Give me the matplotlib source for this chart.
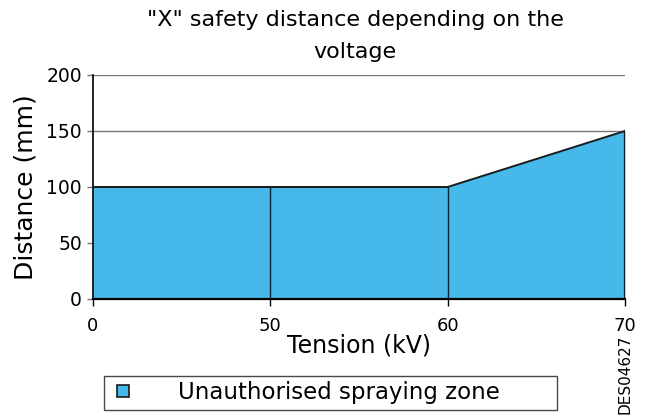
import matplotlib.pyplot as plt
from matplotlib.lines import Line2D

# chart data
tension_labels = ["0", "50", "60", "70"]
distance_mm = [100, 100, 100, 150]
zone_label = "Unauthorised spraying zone"
fill_color = "#46B9EA"

fig = plt.figure(figsize=(6.49, 4.16), dpi=100)
fig.patch.set_facecolor("white")
ax = fig.add_axes([93 / 649, 117 / 416, 532 / 649, 224 / 416])

pos = list(range(len(tension_labels)))
ax.fill_between(pos, 0, distance_mm, color=fill_color, linewidth=0, zorder=2)
ax.plot(pos, distance_mm, color="#1a1a1a", linewidth=1.4, zorder=3)
# vertical separators at each tension step
for p, d in zip(pos[1:], distance_mm[1:]):
    ax.plot([p, p], [0, d], color="#1a1a1a", linewidth=1.0 if p < pos[-1] else 1.6, zorder=3)

ax.set_xlim(pos[0], pos[-1])
ax.set_ylim(0, 200)
ax.set_xticks(pos)
ax.set_xticklabels(tension_labels)
ax.set_yticks([0, 50, 100, 150, 200])
ax.tick_params(axis="x", direction="out", length=5, width=1, pad=8, labelsize=13)
ax.tick_params(axis="y", length=4, width=1, pad=4, labelsize=13.5, color="#777777")
ax.yaxis.grid(True, color="#777777", linewidth=1.0, zorder=1)
ax.set_axisbelow(True)
for side in ["top", "right"]:
    ax.spines[side].set_visible(False)
ax.spines["left"].set_linewidth(1.2)
ax.spines["bottom"].set_linewidth(1.6)

ax.set_xlabel("Tension (kV)", fontsize=17, labelpad=-1)
ax.set_ylabel("Distance (mm)", fontsize=18, labelpad=6)
fig.text(0.547, 0.975, "\"X\" safety distance depending on the\nvoltage",
         ha="center", va="top", fontsize=16, linespacing=1.7)

handle = Line2D([], [], linestyle="none", marker="s", markersize=8,
                markerfacecolor=fill_color, markeredgecolor="#1a1a1a", markeredgewidth=1.2)
leg = fig.legend([handle], [zone_label], loc="lower left",
                 bbox_to_anchor=(104 / 649, 6 / 416, 453 / 649, 36 / 416), mode="expand",
                 fontsize=16.5, frameon=True, fancybox=False, edgecolor="#1a1a1a",
                 handlelength=1.2, handletextpad=1.8, borderpad=0.25,
                 borderaxespad=0)
leg.get_frame().set_linewidth(1.0)

fig.text(0.963, 0.005, "DES04627", rotation=90, ha="center", va="bottom", fontsize=11)

fig.savefig("out.png", dpi=100, facecolor=fig.get_facecolor())
